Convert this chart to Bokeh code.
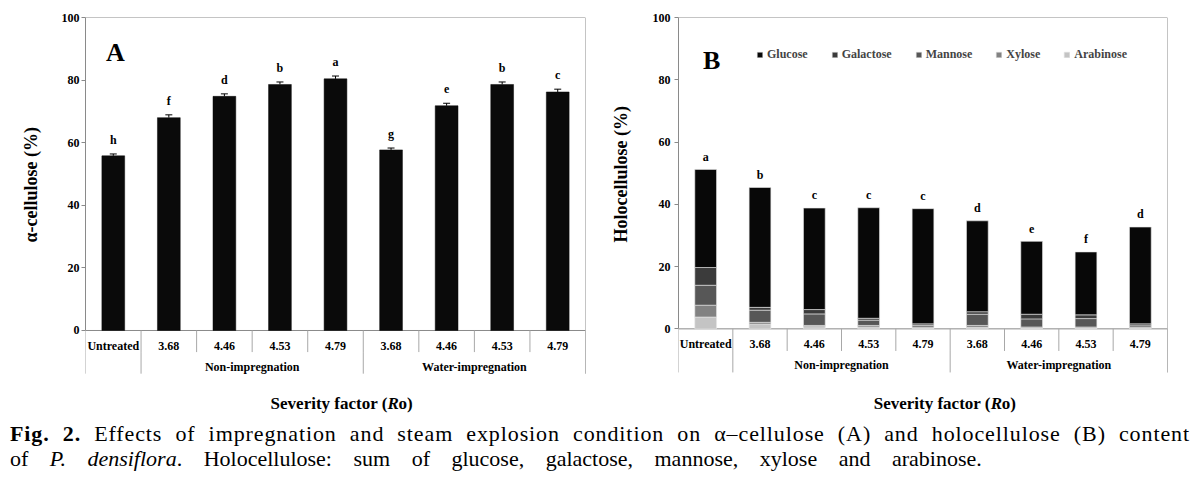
import numpy as np
from bokeh.plotting import figure
from bokeh.models import (ColumnDataSource, Range1d, FixedTicker, Whisker, TeeHead,
                          Legend, LegendItem, Div, Title)
from bokeh.layouts import column, row
from bokeh.embed import file_html
from bokeh.resources import INLINE
from bokeh.core.properties import value

# ---------------- data ----------------
tick_labels = ["Untreated", "3.68", "4.46", "4.53", "4.79", "3.68", "4.46", "4.53", "4.79"]
group_labels = ["Non-impregnation", "Water-impregnation"]
group_starts = [1, 5]
group_ends = [5, 9]

alpha_cellulose = [55.8, 68.0, 74.8, 78.6, 80.4, 57.7, 71.8, 78.6, 76.2]
alpha_err = [0.6, 0.9, 0.8, 0.8, 0.9, 0.6, 0.8, 0.8, 0.9]
alpha_letters = ["h", "f", "d", "b", "a", "g", "e", "b", "c"]

glucose = [31.5, 38.5, 32.6, 35.5, 37.0, 29.2, 23.4, 20.2, 31.1]
galactose = [5.7, 0.9, 1.4, 0.6, 0.5, 0.8, 1.5, 1.2, 0.6]
mannose = [6.4, 3.9, 3.7, 1.7, 0.5, 3.6, 2.6, 2.7, 0.5]
xylose = [3.8, 0.6, 0.4, 0.5, 0.3, 0.6, 0.3, 0.3, 0.2]
arabinose = [3.8, 1.5, 0.7, 0.6, 0.3, 0.5, 0.3, 0.3, 0.3]
holo_letters = ["a", "b", "c", "c", "c", "d", "e", "f", "d"]

sugar_names = ["Glucose", "Galactose", "Mannose", "Xylose", "Arabinose"]
sugar_colors = ["#080808", "#3b3b3b", "#575757", "#828282", "#c4c4c4"]

FONT = "Liberation Serif"
AXIS_GRAY = "#8a8a8a"
TABLE_GRAY = "#a8a8a8"

n = len(tick_labels)
xs = np.arange(n) + 0.5


def txt(p, x, y, t, size, style="bold", align="center", baseline="middle", xo=0, **kw):
    return p.text(x=x, y=y, text=t, x_offset=xo, text_font=value(FONT), text_font_style=style,
                  text_font_size=size, text_align=align, text_baseline=baseline,
                  text_color="black", **kw)


def make_panel(width, bl, br, bt, ymin, ylabel, title_size, title_offset, title_standoff,
               tick_standoff, row1, row2, row1_text, row2_text, sev_x, sev_y):
    p = figure(width=width, height=416, x_range=Range1d(0, n), y_range=Range1d(ymin, 100),
               x_axis_type=None, output_backend="svg", toolbar_location=None,
               min_border_left=bl, min_border_right=br, min_border_top=bt, min_border_bottom=0)
    p.outline_line_color = None
    p.grid.visible = False
    p.background_fill_color = "white"
    p.border_fill_color = "white"
    ax = p.yaxis[0]
    ax.bounds = (0, 100)
    ax.ticker = FixedTicker(ticks=[0, 20, 40, 60, 80, 100])
    ax.minor_tick_line_color = None
    ax.major_tick_in = 0
    ax.major_tick_out = 4
    ax.axis_line_color = AXIS_GRAY
    ax.major_tick_line_color = AXIS_GRAY
    ax.major_label_text_font = FONT
    ax.major_label_text_font_style = "bold"
    ax.major_label_text_font_size = "12px"
    ax.major_label_text_color = "black"
    ax.major_label_standoff = tick_standoff

    p.add_layout(Title(text=ylabel, align="left", offset=title_offset,
                       standoff=title_standoff, text_font=FONT, text_font_style="bold",
                       text_font_size=title_size, text_color="black"), "left")

    # frame top / right, baseline
    p.segment(x0=[0], y0=[100], x1=[n], y1=[100], line_color=AXIS_GRAY, line_width=1)
    p.segment(x0=[n], y0=[row2], x1=[n], y1=[100], line_color=AXIS_GRAY, line_width=1)
    p.segment(x0=[0], y0=[0], x1=[n], y1=[0], line_color=AXIS_GRAY, line_width=1)
    # category table
    b = np.arange(n + 1)
    p.segment(x0=b, y0=np.zeros(n + 1), x1=b, y1=np.full(n + 1, row1),
              line_color=TABLE_GRAY, line_width=1)
    gb = np.array([0] + group_starts + [group_ends[-1]])
    p.segment(x0=gb, y0=np.full(len(gb), row1), x1=gb, y1=np.full(len(gb), row2),
              line_color=TABLE_GRAY, line_width=1)
    txt(p, xs, np.full(n, row1_text), tick_labels, "12px")
    gx = (np.array(group_starts) + np.array(group_ends)) / 2
    txt(p, gx, np.full(len(gx), row2_text), group_labels, "12px")
    # Severity factor (Ro)
    txt(p, [sev_x], [sev_y], ["Severity factor ("], "17px", align="left", xo=-71)
    txt(p, [sev_x], [sev_y], ["R"], "17px", style="bold italic", align="left", xo=46)
    txt(p, [sev_x], [sev_y], ["o)"], "17px", align="left", xo=57)
    return p


# ---------------- Panel A ----------------
pA = make_panel(590, 85, 5, 17, -27.48, "\u03b1-cellulose  (%)", "18px", 174, 35, 2,
                -6.9, -13.8, -5.1, -11.7, 4.61, -23.3)
srcA = ColumnDataSource(dict(x=xs, top=alpha_cellulose, err=alpha_err,
                             upper=np.array(alpha_cellulose) + np.array(alpha_err),
                             lab_y=np.array(alpha_cellulose) + np.array(alpha_err) + 4.4,
                             lab=alpha_letters))
pA.vbar(x="x", top="top", bottom=0, width=0.41, source=srcA, fill_color="#0a0a0a",
        line_color="#0a0a0a", line_width=0.5)
wA = Whisker(base="x", upper="upper", lower="top", source=srcA, dimension="height",
             line_color="black", line_width=1,
             upper_head=TeeHead(size=7, line_color="black", line_width=1), lower_head=None)
pA.add_layout(wA)
pA.text(x="x", y="lab_y", text="lab", source=srcA, text_font=value(FONT),
        text_font_style="bold", text_font_size="12px", text_align="center",
        text_baseline="alphabetic", text_color="black")
txt(pA, [0.54], [88.8], ["A"], "26px")

# ---------------- Panel B ----------------
pB = make_panel(607, 87, 30, 14, -28.15, "Holocellulose (%)", "18px", 174, 37, 4,
                -7.1, -14.0, -5.0, -11.7, 4.90, -24.0)
totals = (np.array(glucose) + np.array(galactose) + np.array(mannose)
          + np.array(xylose) + np.array(arabinose))
srcB = ColumnDataSource(dict(x=xs, Glucose=glucose, Galactose=galactose, Mannose=mannose,
                             Xylose=xylose, Arabinose=arabinose,
                             lab_y=totals + 4.1, lab=holo_letters))
stack_order = ["Arabinose", "Xylose", "Mannose", "Galactose", "Glucose"]
stack_colors = [sugar_colors[sugar_names.index(s)] for s in stack_order]
rs = pB.vbar_stack(stack_order, x="x", width=0.4, color=stack_colors, source=srcB,
                   line_color="#e6e6e6", line_width=0.6)
rmap = dict(zip(stack_order, rs))
pB.text(x="x", y="lab_y", text="lab", source=srcB, text_font=value(FONT),
        text_font_style="bold", text_font_size="12px", text_align="center",
        text_baseline="alphabetic", text_color="black")
txt(pB, [0.61], [86.3], ["B"], "26px")
legend = Legend(items=[LegendItem(label=s, renderers=[rmap[s]]) for s in sugar_names],
                orientation="horizontal", location=(78, 354), padding=0, margin=0,
                spacing=23, glyph_width=7, glyph_height=7, label_standoff=4,
                label_text_font=FONT, label_text_font_style="bold",
                label_text_font_size="12px", label_height=12,
                background_fill_alpha=0, border_line_color=None)
pB.add_layout(legend)

# ---------------- caption ----------------
cap = Div(text=(
    '<div style="font-family:\'Liberation Serif\',serif;font-size:22px;line-height:25px;'
    'color:black;width:1180px;margin-left:5px;padding-top:0px">'
    '<div style="text-align:justify;text-align-last:justify;letter-spacing:0.9px">'
    '<b>Fig. 2.</b> Effects of impregnation and steam explosion condition on '
    '\u03b1\u2013cellulose (A) and holocellulose (B) content</div>'
    '<div style="word-spacing:16px">of <i>P. densiflora</i>. Holocellulose: sum of glucose, '
    'galactose, mannose, xylose and arabinose.</div></div>'),
    width=1190, height=68)

layout = column(row(pA, pB, spacing=0), cap, spacing=0)
open("out.html", "w").write(file_html(layout, INLINE))
